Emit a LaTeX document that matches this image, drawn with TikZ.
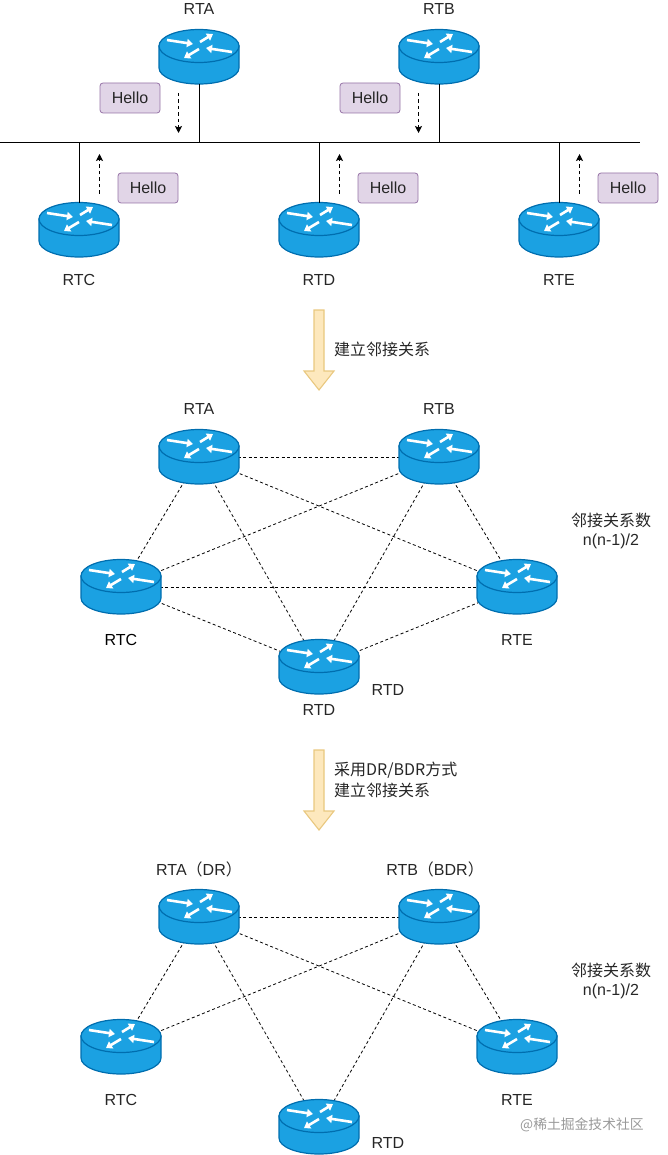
\documentclass[tikz,border=0pt]{standalone}
\usepackage{fontspec}
\setmainfont{Liberation Sans}
\newfontfamily\cjk{Noto Sans CJK SC}
\usetikzlibrary{arrows.meta,backgrounds}
\definecolor{rfill}{HTML}{1BA1E2}
\definecolor{rline}{HTML}{006EAF}
\definecolor{hfill}{HTML}{E1D5E7}
\definecolor{hline}{HTML}{9673A6}
\definecolor{afill}{HTML}{FDE8BD}
\definecolor{aline}{HTML}{E9C87F}
\tikzset{
  routerbox/.style={rectangle,minimum width=80pt,minimum height=54pt,inner sep=0pt,outer sep=0pt},
  rbody/.style={fill=rfill,draw=rline,line width=1.2pt},
  rarrow/.style={white,line width=2.6pt,-{Triangle[length=6pt,width=8pt]}},
  lbl/.style={font=\fontsize{16}{18}\selectfont,text=black!85,inner sep=0pt},
  cjklbl/.style={font=\cjk\fontsize{16}{20}\selectfont,text=black!85,inner sep=0pt},
  hello/.style={rectangle,rounded corners=3pt,fill=hfill,draw=hline,line width=0.8pt,minimum width=60pt,minimum height=30pt,inner sep=0pt,font=\fontsize{16}{18}\selectfont,text=black!85},
  bus/.style={line width=1pt,black},
  wire/.style={line width=1pt,black},
  mesh/.style={line width=0.8pt,black,dash pattern=on 3pt off 2.5pt},
  msg/.style={line width=0.9pt,black,dash pattern=on 3.5pt off 3pt,-{Stealth[length=7pt,width=7pt,inset=1.5pt]}},
  bigarrow/.style={fill=afill,draw=aline,line width=1.1pt,line join=miter},
}
\newcommand{\router}[3]{%
  \node[routerbox] (#1) at (#2,#3) {};
  \begin{scope}[shift={(#1.center)}]
    \path[rbody] (-40,-11) -- (-40,11) arc[start angle=180,end angle=360,x radius=40pt,y radius=16pt] -- (40,-11) -- cycle;
    \path[rbody] (0,-11) ellipse[x radius=40pt,y radius=16.5pt];
    \draw[rarrow] (-32,-17) -- (-6,-13);
    \draw[rarrow] (1,-15) -- (14,-23);
    \draw[rarrow] (33,-5) -- (7,-9);
    \draw[rarrow] (0,-8) -- (-15,1);
  \end{scope}}
\newcommand{\blockarrow}[1]{%
  \path[bigarrow] (314,#1) -- (324,#1) -- (324,#1+61) -- (334,#1+61) -- (319,#1+80) -- (304,#1+61) -- (314,#1+61) -- cycle;}
\begin{document}
\begin{tikzpicture}[x=1pt,y=-1pt]
\useasboundingbox (0,0) rectangle (667,1155);
% ---------- section 1: shared segment
\coordinate (busL) at (0,143);
\coordinate (busR) at (640,143);
\coordinate (tapA) at (199,143);
\coordinate (tapB) at (439,143);
\coordinate (tapC) at (79,143);
\coordinate (tapD) at (319,143);
\coordinate (tapE) at (559,143);
\draw[bus] (busL) -- (busR);
\router{a1}{199}{57}
\router{b1}{439}{57}
\router{c1}{79}{230}
\router{d1}{319}{230}
\router{e1}{559}{230}
\draw[wire] (a1.south) -- (tapA);
\draw[wire] (b1.south) -- (tapB);
\draw[wire] (c1.north) -- (tapC);
\draw[wire] (d1.north) -- (tapD);
\draw[wire] (e1.north) -- (tapE);
\node[lbl] (ta1) at (199,9) {RTA};
\node[lbl] (tb1) at (439,9) {RTB};
\node[lbl] (tc1) at (79,280) {RTC};
\node[lbl] (td1) at (319,280) {RTD};
\node[lbl] (te1) at (559,280) {RTE};
\node[hello] (h1) at (130,98) {Hello};
\node[hello] (h2) at (370,98) {Hello};
\node[hello] (h3) at (148,188) {Hello};
\node[hello] (h4) at (388,188) {Hello};
\node[hello] (h5) at (628,188) {Hello};
\coordinate (m1s) at (178.5,93); \coordinate (m1e) at (178.5,133);
\coordinate (m2s) at (418.5,93); \coordinate (m2e) at (418.5,133);
\coordinate (m3s) at (99.5,194); \coordinate (m3e) at (99.5,154);
\coordinate (m4s) at (339.5,194); \coordinate (m4e) at (339.5,154);
\coordinate (m5s) at (579.5,194); \coordinate (m5e) at (579.5,154);
\draw[msg] (m1s) -- (m1e);
\draw[msg] (m2s) -- (m2e);
\draw[msg] (m3s) -- (m3e);
\draw[msg] (m4s) -- (m4e);
\draw[msg] (m5s) -- (m5e);
% ---------- transition 1
\blockarrow{310}
\node[cjklbl,anchor=west] (t1) at (334,349) {建立邻接关系};
% ---------- section 2: full mesh
\router{a2}{199}{457}
\router{b2}{439}{457}
\router{c2}{121}{587}
\router{e2}{517}{587}
\router{d2}{319}{667}
\begin{scope}[on background layer]
  \foreach \p/\q in {a2/b2,a2/c2,a2/d2,a2/e2,b2/c2,b2/d2,b2/e2,c2/d2,c2/e2,d2/e2}
    \draw[mesh] (\p.center) -- (\q.center);
\end{scope}
\node[lbl] (ta2) at (199,409) {RTA};
\node[lbl] (tb2) at (439,409) {RTB};
\node[lbl,text=black,font=\fontsize{16}{18}\selectfont] (tc2) at (121,640) {RTC};
\node[lbl] (te2) at (517,640) {RTE};
\node[lbl] (td2) at (319,710) {RTD};
\node[lbl] (td2b) at (388,690) {RTD};
\node[cjklbl] (n2a) at (611,520) {邻接关系数};
\node[lbl] (n2b) at (611,541) {n(n-1)/2};
% ---------- transition 2
\blockarrow{750}
\node[cjklbl,anchor=west] (t2a) at (334,770) {采用DR/BDR方式};
\node[cjklbl,anchor=west] (t2b) at (334,790) {建立邻接关系};
% ---------- section 3: DR/BDR
\router{a3}{199}{917}
\router{b3}{439}{917}
\router{c3}{121}{1047}
\router{e3}{517}{1047}
\router{d3}{319}{1127}
\begin{scope}[on background layer]
  \foreach \p/\q in {a3/b3,a3/c3,a3/d3,a3/e3,b3/c3,b3/d3,b3/e3}
    \draw[mesh] (\p.center) -- (\q.center);
\end{scope}
\node[lbl] (ta3) at (199,869) {RTA{\cjk（}DR{\cjk）}};
\node[lbl] (tb3) at (435,869) {RTB{\cjk（}BDR{\cjk）}};
\node[lbl] (tc3) at (121,1100) {RTC};
\node[lbl] (te3) at (517,1100) {RTE};
\node[lbl] (td3) at (388,1143) {RTD};
\node[cjklbl] (n3a) at (611,970) {邻接关系数};
\node[lbl] (n3b) at (611,991) {n(n-1)/2};
\node[anchor=west,inner sep=0pt,text=black!40,font=\cjk\fontsize{13.8}{16}\selectfont] (wm) at (520,1125) {@稀土掘金技术社区};
\end{tikzpicture}
\end{document}
